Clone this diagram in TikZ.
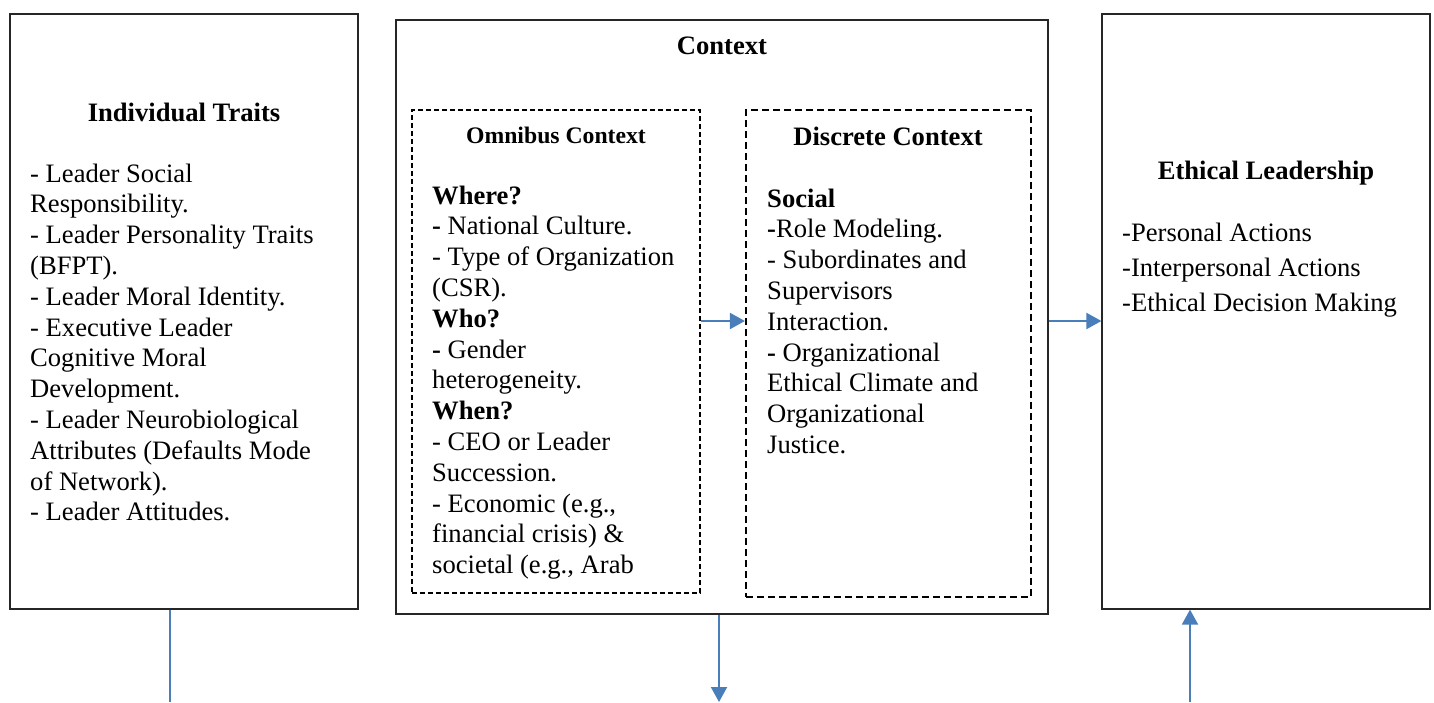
\documentclass[tikz,border=0pt]{standalone}
\usepackage{fontspec}
\setmainfont{Liberation Serif}
\usetikzlibrary{arrows.meta}
\definecolor{linkblue}{HTML}{4A7EBB}
\definecolor{boxline}{HTML}{262626}
\newcommand{\body}{\fontsize{26.6}{30.8}\selectfont}
\newcommand{\lines}[1]{\begin{tabular}[t]{@{}l@{}}#1\end{tabular}}
\tikzset{
  panel/.style={draw=boxline, line width=1.2pt, fill=white, inner sep=0pt},
  omnibox/.style={draw=black, line width=1.5pt, dash pattern=on 5pt off 3pt, inner sep=0pt},
  discbox/.style={draw=black, line width=2.2pt, dash pattern=on 7pt off 4pt, inner sep=0pt},
  title/.style={anchor=base, inner sep=0pt, font=\body\bfseries},
  listtext/.style={anchor=base west, inner sep=0pt, font=\body},
  link/.style={draw=linkblue, line width=2pt},
  arr/.style={link, -{Triangle[length=15pt,width=16pt]}}
}
\begin{document}
\begin{tikzpicture}[x=1pt,y=-1pt]
\useasboundingbox[fill=white] (0,0) rectangle (1434,702);

% outer panels
\node[panel, minimum width=348pt, minimum height=595pt] (traits) at (184,311.5) {};
\node[panel, minimum width=652pt, minimum height=594pt] (context) at (722,317) {};
\node[panel, minimum width=328pt, minimum height=595pt] (ethical) at (1266,311.5) {};

% context sub-panels
\node[omnibox, minimum width=288pt, minimum height=483pt] (omni) at (556,351.5) {};
\node[discbox, minimum width=285pt, minimum height=487pt] (disc) at (888.5,353.5) {};

% headings
\node[title] (traitsT) at (184,121) {Individual Traits};
\node[title] (contextT) at (722,54) {Context};
\node[title, font=\fontsize{23.7}{28}\selectfont\bfseries] (omniT) at (556,143) {Omnibus Context};
\node[title] (discT) at (888,145) {Discrete Context};
\node[title] (ethicalT) at (1266,179) {Ethical Leadership};

% lists
\node[listtext] (traitsL) at (30,182) {\lines{%
- Leader Social\\
Responsibility.\\
- Leader Personality Traits\\
(BFPT).\\
- Leader Moral Identity.\\
- Executive Leader\\
Cognitive Moral\\
Development.\\
- Leader Neurobiological\\
Attributes (Defaults Mode\\
of Network).\\
- Leader Attitudes.}};

\node[listtext] (omniL) at (432,204) {\lines{%
\textbf{Where?}\\
\textbf{-} National Culture.\\
- Type of Organization\\
(CSR).\\
\textbf{Who?}\\
\textbf{-} Gender\\
heterogeneity.\\
\textbf{When?}\\
- CEO or Leader\\
Succession.\\
- Economic (e.g.,\\
financial crisis) \&\\
societal (e.g., Arab}};

\node[listtext] (discL) at (767,207) {\lines{%
\textbf{Social}\\
\textbf{-}Role Modeling.\\
- Subordinates and\\
Supervisors\\
Interaction.\\
\textbf{-} Organizational\\
Ethical Climate and\\
Organizational\\
Justice.}};

\node[listtext] (ethicalL) at (1122,241) {\lines{%
-Personal Actions\\[4.2pt]
-Interpersonal Actions\\[4.2pt]
-Ethical Decision Making}};

% connectors
\coordinate (mid) at (0,321);
\coordinate (lb) at (170,702);
\coordinate (cb) at (719,702);
\coordinate (rb) at (1190,702);
\draw[arr] (omni.east |- mid) -- (disc.west |- mid);
\draw[arr] (context.east |- mid) -- (ethical.west |- mid);
\draw[link] (traits.south -| lb) -- (lb);
\draw[arr] (context.south -| cb) -- (cb);
\draw[arr] (rb) -- (ethical.south -| rb);
\end{tikzpicture}
\end{document}
